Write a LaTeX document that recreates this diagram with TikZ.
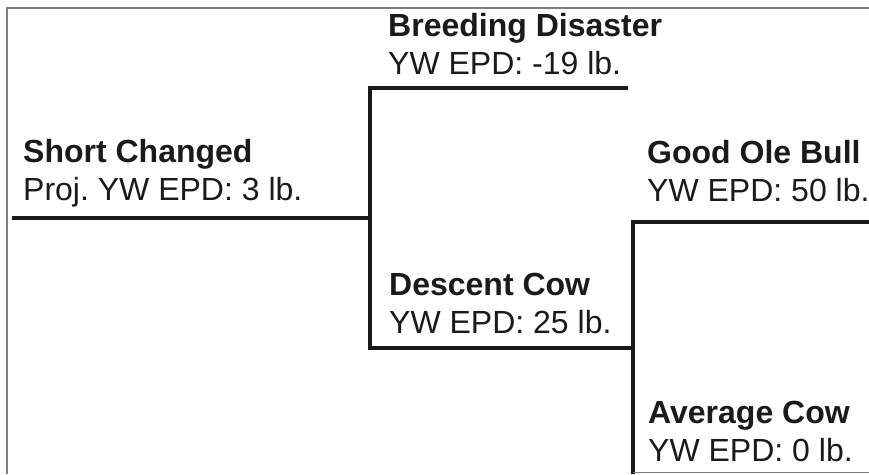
\documentclass[tikz,border=0pt]{standalone}
\usepackage{fontspec}
\setmainfont{Liberation Sans}
\frenchspacing
\definecolor{ink}{HTML}{1A1A1A}
\definecolor{frame}{HTML}{7F7F7F}
\tikzset{
  person/.style={anchor=base west, inner sep=0pt, align=left, text=ink,
    font=\fontsize{32}{38}\selectfont},
  branch/.style={draw=ink, line width=3.4pt, line cap=butt, line join=miter},
  border/.style={draw=frame, line width=1.4pt}
}
\begin{document}
\begin{tikzpicture}[x=1pt,y=-1pt]
\useasboundingbox (0,0) rectangle (869,474);
% frame
\coordinate (fbl) at (7,474);
\coordinate (ftl) at (7,8);
\coordinate (ftr) at (869,8);
\draw[border] (fbl) -- (ftl) -- (ftr);
% persons (anchor = baseline of the last line)
\node[person] (sc) at (23,200) {\textbf{Short Changed}\\Proj.\ YW EPD: 3 lb.};
\node[person] (bd) at (388,74) {\textbf{Breeding Disaster}\\YW EPD: -19 lb.};
\node[person] (dc) at (389,333) {\textbf{Descent Cow}\\YW EPD: 25 lb.};
\node[person] (gb) at (647,201) {\textbf{Good Ole Bull}\\YW EPD: 50 lb.};
\node[person] (ac) at (648,461) {\textbf{Average Cow}\\YW EPD: 0 lb.};
% junction coordinates
\coordinate (scL) at (12,218);
\coordinate (j1) at (370,218);
\coordinate (bdL) at (370,88);
\coordinate (bdR) at (628,88);
\coordinate (dcL) at (370,348);
\coordinate (dcR) at (633,348);
\coordinate (gbL) at (633,222);
\coordinate (gbR) at (869,222);
\coordinate (acB) at (633,474);
\coordinate (acL) at (633,472.5);
\coordinate (acR) at (869,472.5);
% lines
\draw[branch] (scL) -- (j1);
\draw[branch] (bdR) -- (bdL) -- (dcL) -- (dcR);
\draw[branch] (gbR) -- (gbL) -- (acB);
\draw[draw=frame, line width=1.2pt] (acL) -- (acR);
\end{tikzpicture}
\end{document}
